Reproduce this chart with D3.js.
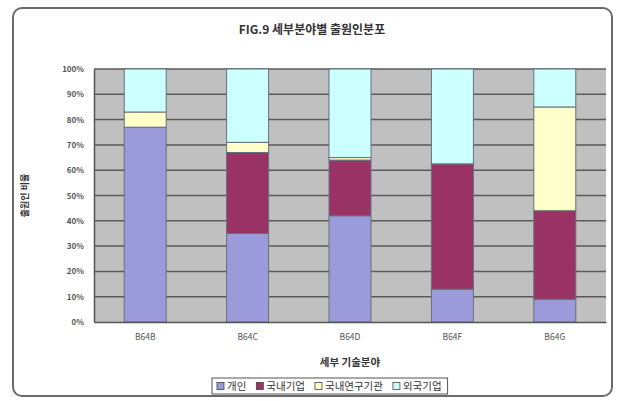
<!DOCTYPE html>
<html>
<head>
<meta charset="utf-8">
<script src="https://cdn.jsdelivr.net/npm/d3@7"></script>
<style>
  html, body { margin: 0; padding: 0; background: #fff; }
  svg { display: block; }
  text { font-family: "Noto Sans CJK KR", "Noto Sans", sans-serif; }
</style>
</head>
<body>
<svg id="chart" width="621" height="401"></svg>
<script>
// Applicant share (%) by sub-field
const categories = ["B64B", "B64C", "B64D", "B64F", "B64G"];
const seriesNames = ["개인", "국내기업", "국내연구기관", "외국기업"];
const individual = [77, 35, 42, 13, 9];
const domesticCorp = [0, 32, 22, 49.5, 35];
const domesticInst = [6, 4, 1, 0, 41];
const foreignCorp = [17, 29, 35, 37.5, 15];
const yTicks = [0, 10, 20, 30, 40, 50, 60, 70, 80, 90, 100];
const colors = ["#9b9bdc", "#993366", "#ffffcc", "#ccffff"];

const titleText = "FIG.9 세부분야별 출원인분포";
const xTitle = "세부 기술분야";
const yTitle = "출원인 비율";

const svg = d3.select("#chart");

// rounded outer frame
svg.append("rect")
  .attr("x", 13).attr("y", 8).attr("width", 599).attr("height", 388)
  .attr("rx", 9).attr("ry", 9)
  .attr("fill", "#fff").attr("stroke", "#6a6a6a").attr("stroke-width", 2);

const plot = { left: 94, right: 606, top: 69, bottom: 322 };

const x = d3.scaleBand()
  .domain(categories)
  .range([plot.left, plot.right])
  .paddingInner(0.59)
  .paddingOuter(0.295);

const y = d3.scaleLinear().domain([0, 100]).range([plot.bottom, plot.top]);

// plot background
svg.append("rect")
  .attr("x", plot.left).attr("y", plot.top)
  .attr("width", plot.right - plot.left).attr("height", plot.bottom - plot.top)
  .attr("fill", "#c0c0c0");

// gridlines
svg.append("g")
  .selectAll("line")
  .data(yTicks.filter(t => t > 0))
  .join("line")
  .attr("x1", plot.left).attr("x2", plot.right)
  .attr("y1", d => y(d)).attr("y2", d => y(d))
  .attr("stroke", "#5a5a5a").attr("stroke-width", 1.5);

// stacked bars
const rows = categories.map((c, i) => ({
  cat: c,
  "개인": individual[i],
  "국내기업": domesticCorp[i],
  "국내연구기관": domesticInst[i],
  "외국기업": foreignCorp[i]
}));
const stacked = d3.stack().keys(seriesNames)(rows);

svg.append("g")
  .selectAll("g")
  .data(stacked)
  .join("g")
  .attr("fill", (d, i) => colors[i])
  .selectAll("rect")
  .data(d => d.filter(s => s[1] - s[0] > 0))
  .join("rect")
  .attr("x", d => x(d.data.cat))
  .attr("width", x.bandwidth())
  .attr("y", d => y(d[1]))
  .attr("height", d => y(d[0]) - y(d[1]))
  .attr("stroke", "#66707a").attr("stroke-width", 1);

// y axis
const yAxis = d3.axisLeft(y)
  .tickValues(yTicks)
  .tickFormat(d => d + "%")
  .tickSize(0)
  .tickPadding(10);
const gy = svg.append("g")
  .attr("transform", `translate(${plot.left},0)`)
  .call(yAxis);
gy.select(".domain").attr("stroke", "#555").attr("stroke-width", 1.5);
gy.selectAll("text")
  .attr("font-size", 8).attr("font-weight", "bold").attr("fill", "#555");

// x axis
const xAxis = d3.axisBottom(x).tickSize(0).tickPadding(12);
const gx = svg.append("g")
  .attr("transform", `translate(0,${plot.bottom})`)
  .call(xAxis);
gx.select(".domain").attr("stroke", "#555").attr("stroke-width", 1.5);
gx.selectAll("text")
  .attr("font-size", 8.5).attr("fill", "#555");

// titles
svg.append("text")
  .attr("x", 312).attr("y", 34)
  .attr("text-anchor", "middle")
  .attr("font-size", 12).attr("font-weight", "bold").attr("fill", "#333")
  .text(titleText);

svg.append("text")
  .attr("x", 350).attr("y", 366)
  .attr("text-anchor", "middle")
  .attr("font-size", 10.5).attr("font-weight", "bold").attr("fill", "#333")
  .text(xTitle);

svg.append("text")
  .attr("transform", `translate(28,${(plot.top + plot.bottom) / 2}) rotate(-90)`)
  .attr("text-anchor", "middle")
  .attr("font-size", 9).attr("font-weight", "bold").attr("fill", "#333")
  .text(yTitle);

// legend
const legend = svg.append("g");
const legBox = legend.append("rect")
  .attr("y", 378).attr("height", 16)
  .attr("fill", "#fff").attr("stroke", "#555").attr("stroke-width", 1);

let lx = 217;
seriesNames.forEach((name, i) => {
  legend.append("rect")
    .attr("x", lx).attr("y", 382.5).attr("width", 7).attr("height", 7)
    .attr("fill", colors[i]).attr("stroke", "#444").attr("stroke-width", 0.8);
  const t = legend.append("text")
    .attr("x", lx + 10).attr("y", 390)
    .attr("font-size", 10.5).attr("fill", "#333")
    .text(name);
  lx += 10 + t.node().getComputedTextLength() + 10;
});
legBox.attr("x", 212).attr("width", lx - 212 - 4);
</script>
</body>
</html>
